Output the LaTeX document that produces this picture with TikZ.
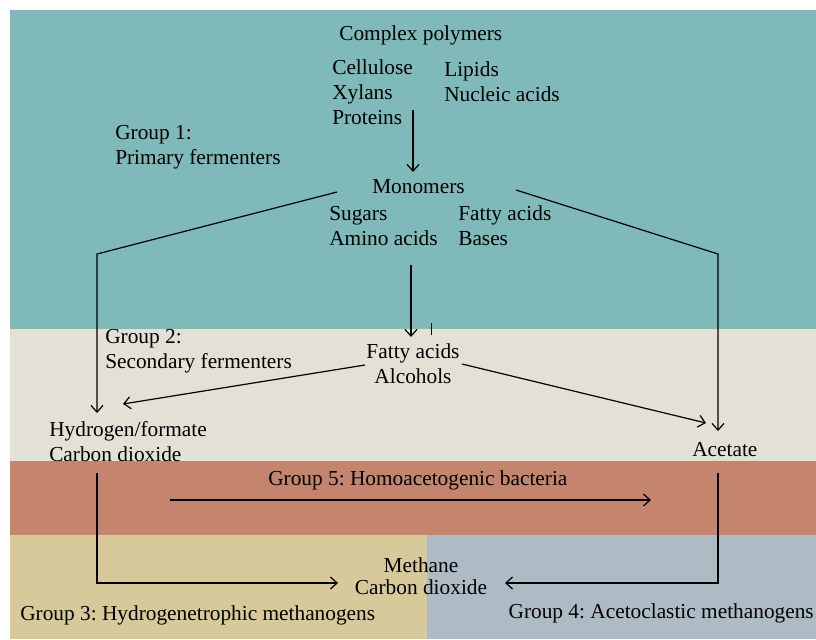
\documentclass[tikz,border=0pt]{standalone}
\usepackage{fontspec}
\setmainfont{Liberation Serif}
\usetikzlibrary{arrows.meta}
\frenchspacing

\definecolor{bandTeal}{RGB}{127,185,185}
\definecolor{bandBeige}{RGB}{228,224,214}
\definecolor{bandRed}{RGB}{196,132,110}
\definecolor{bandSand}{RGB}{216,201,155}
\definecolor{bandSlate}{RGB}{173,187,197}

\begin{document}
\begin{tikzpicture}[x=0.75pt,y=0.75pt,yscale=-1,xscale=1,
  txt/.style={inner sep=0.75pt, anchor=west, align=left, font=\fontsize{16}{18.7}\selectfont},
  flow/.style={line width=0.9pt, -{Straight Barb[length=5pt,width=9pt]}},
  plain/.style={line width=0.9pt}]
  \useasboundingbox (0,0) rectangle (816,639);

  %Shape: Rectangle [bands]
  \fill [bandTeal]  (10,10) rectangle (816,329);
  \fill [bandBeige] (10,329) rectangle (816,461);
  \fill [bandRed]   (10,461) rectangle (816,535);
  \fill [bandSand]  (10,535) rectangle (427,639);
  \fill [bandSlate] (427,535) rectangle (816,639);

  % Text Node
  \node [txt] (poly) at (338,35) {Complex polymers};
  % Text Node
  \node [txt] (carbo) at (331,92) {Cellulose\\Xylans\\Proteins};
  % Text Node
  \node [txt] (lipid) at (443,82) {Lipids\\Nucleic acids};
  % Text Node
  \node [txt] (grpone) at (114,147) {Group 1:\\Primary fermenters};
  % Text Node
  \node [txt] (mono) at (371,187) {Monomers};
  % Text Node
  \node [txt] (sugar) at (328,226) {Sugars\\Amino acids};
  % Text Node
  \node [txt] (fatone) at (457,226) {Fatty acids\\Bases};
  % Text Node
  \node [txt] (grptwo) at (104,351) {Group 2:\\Secondary fermenters};
  % Text Node
  \node [txt, anchor=center, align=center] (fattwo) at (413,364) {Fatty acids\\Alcohols};
  % Text Node
  \node [txt] (hydro) at (48,442) {Hydrogen/formate\\Carbon dioxide};
  % Text Node
  \node [txt] (acet) at (691,450) {Acetate};
  % Text Node
  \node [txt] (grpfive) at (267,480) {Group 5: Homoacetogenic bacteria};
  % Text Node
  \node [txt, anchor=center, align=center] (meth) at (421,576) {Methane\\[-2.5pt]Carbon dioxide};
  % Text Node
  \node [txt] (grpthree) at (19,615) {Group 3: Hydrogenetrophic methanogens};
  % Text Node
  \node [txt, anchor=east] (grpfour) at (815,613) {Group 4: Acetoclastic methanogens};

  %Coordinates for line ends
  \coordinate (polyout) at (413,110);
  \coordinate (monoin) at (413,172);
  \coordinate (monoleft) at (337,192);
  \coordinate (bendleft) at (97,254);
  \coordinate (hydroin) at (97,413);
  \coordinate (monoright) at (516,190);
  \coordinate (bendright) at (718,254);
  \coordinate (acetin) at (718,431);
  \coordinate (monoout) at (411,265);
  \coordinate (fatin) at (411,337);
  \coordinate (fatleft) at (365,365);
  \coordinate (hydroside) at (123,404);
  \coordinate (fatright) at (462,364);
  \coordinate (acetside) at (706,423);
  \coordinate (homostart) at (170,500);
  \coordinate (homoend) at (651,500);
  \coordinate (hydroout) at (97,473);
  \coordinate (hydrobend) at (97,583);
  \coordinate (methleft) at (338,583);
  \coordinate (acetout) at (718,473);
  \coordinate (acetbend) at (718,583);
  \coordinate (methright) at (505,583);

  %Straight Lines
  \draw [flow] (polyout) -- (monoin);
  \draw [flow] (monoleft) -- (bendleft) -- (hydroin);
  \draw [flow] (monoright) -- (bendright) -- (acetin);
  \draw [flow] (monoout) -- (fatin);
  \draw [line width=0.6pt] (431,323) -- (431,335);
  \draw [flow] (fatleft) -- (hydroside);
  \draw [flow] (fatright) -- (acetside);
  \draw [flow] (homostart) -- (homoend);
  \draw [flow] (hydroout) -- (hydrobend) -- (methleft);
  \draw [flow] (acetout) -- (acetbend) -- (methright);

\end{tikzpicture}
\end{document}
